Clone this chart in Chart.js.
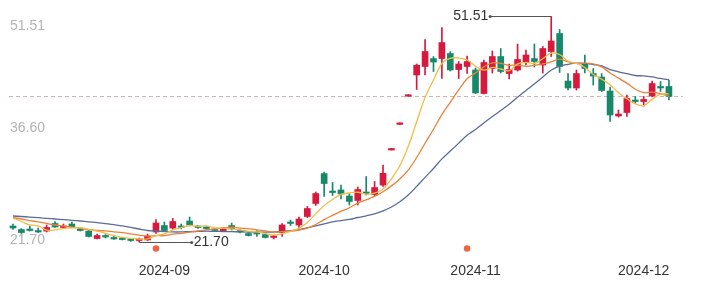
<!DOCTYPE html>
<html><head><meta charset="utf-8">
<script src="https://cdn.jsdelivr.net/npm/chart.js@4.4.1/dist/chart.umd.min.js"></script>
<style>html,body{margin:0;padding:0;background:#fff;overflow:hidden}canvas{display:block}</style>
</head><body>
<canvas id="c" width="703" height="291"></canvas>
<script>
// ---- data (daily candles, 2024-08-07 .. 2024-12-05) ----
const opens  = [23.82,23.35,23.35,23.15,23.15,24.15,23.62,24.08,23.35,23.15,
                22.16,22.49,22.30,22.16,22.03,21.90,21.97,23.02,23.88,23.55,
                23.75,24.48,23.75,23.62,23.35,23.15,23.88,23.15,22.82,22.89,
                22.69,22.30,22.95,24.28,23.95,25.07,26.79,30.75,28.44,28.58,
                27.78,27.19,28.31,27.98,29.23,33.86,37.25,40.97,43.78,44.90,
                45.95,45.95,46.62,44.50,44.90,44.44,41.33,44.63,46.22,43.97,
                44.44,45.43,45.95,45.10,46.88,49.26,42.98,42.06,45.30,43.97,
                43.51,41.66,38.36,38.82,40.47,40.27,41.00,42.26,42.26];
const closes = [23.55,22.95,23.22,23.02,23.62,23.68,23.82,23.68,23.22,22.43,
                22.56,22.36,22.10,22.03,21.90,22.10,22.49,24.21,23.22,24.41,
                23.62,23.95,23.62,23.48,23.22,23.42,23.42,23.02,22.56,22.76,
                22.30,22.43,23.95,24.15,24.74,26.13,28.11,29.43,28.24,28.05,
                27.06,28.64,28.11,28.90,30.78,33.86,37.25,40.97,45.07,46.88,
                45.49,48.07,44.44,45.23,45.56,41.40,45.43,46.22,44.24,44.50,
                45.83,46.42,45.56,47.28,48.27,44.90,42.06,43.97,44.63,43.64,
                41.73,38.49,38.62,40.67,40.27,40.54,42.65,42.06,40.94];
const highs  = [24.08,23.48,23.82,23.55,23.95,24.41,24.08,24.35,23.42,23.29,
                22.76,22.69,22.56,22.30,22.16,22.23,22.76,24.68,24.35,24.81,
                24.08,25.00,23.88,23.75,23.48,23.62,24.21,23.35,22.95,23.22,
                22.82,22.63,24.15,24.61,25.00,26.39,28.31,30.95,29.57,29.23,
                28.11,28.97,30.36,29.70,31.88,33.86,37.25,40.97,45.23,48.47,
                46.22,50.05,46.88,45.56,46.29,44.70,45.76,46.95,47.28,45.23,
                47.87,47.08,47.87,47.54,51.51,49.79,43.97,44.44,46.42,44.63,
                43.97,42.19,39.15,41.13,40.94,40.94,42.98,42.92,43.12];
const lows   = [23.35,22.82,23.15,22.95,23.02,23.62,23.55,23.62,23.15,22.36,
                22.10,22.23,22.03,21.97,21.77,21.70,21.90,22.82,23.15,23.35,
                23.42,23.82,23.48,23.35,23.09,23.09,23.29,22.89,22.49,22.43,
                22.23,22.10,22.43,23.88,23.62,24.94,26.53,27.72,27.85,27.38,
                26.59,26.59,27.91,27.85,29.04,33.86,37.25,40.97,41.86,43.78,
                44.24,43.31,44.30,43.31,43.97,41.33,41.26,44.04,44.04,43.25,
                44.30,45.10,44.83,44.04,46.22,44.11,41.79,41.79,44.04,42.45,
                41.60,37.63,38.22,38.29,40.01,39.68,40.87,41.60,40.47];
const ma5  = [24.87,24.41,23.95,23.82,23.27,23.30,23.47,23.56,23.60,23.37,
              23.14,22.85,22.53,22.30,22.19,22.10,22.12,22.55,22.78,23.29,
              23.59,23.88,23.76,23.82,23.58,23.54,23.43,23.31,23.13,23.04,
              22.81,22.61,22.80,23.12,23.51,24.28,25.42,26.51,27.33,27.99,
              28.18,28.28,28.02,28.15,28.70,30.06,31.78,34.35,37.59,40.81,
              43.13,45.30,45.99,46.02,45.76,44.94,44.41,44.77,44.57,44.36,
              45.24,45.44,45.31,45.92,46.67,46.49,45.61,45.30,44.77,43.84,
              43.21,42.49,41.42,40.63,39.96,39.72,40.55,41.24,41.29];
const ma10 = [24.94,24.74,24.54,24.35,24.15,23.95,23.82,23.68,23.51,23.32,
              23.22,23.16,23.05,22.95,22.78,22.62,22.49,22.54,22.54,22.74,
              22.84,23.00,23.16,23.30,23.43,23.56,23.66,23.54,23.47,23.31,
              23.18,23.02,23.06,23.12,23.28,23.55,24.02,24.66,25.22,25.75,
              26.23,26.85,27.27,27.74,28.35,29.12,30.03,31.19,32.87,34.75,
              36.60,38.54,40.17,41.80,43.28,44.04,44.85,45.38,45.30,45.06,
              45.09,44.93,45.04,45.24,45.52,45.87,45.53,45.30,45.34,45.26,
              44.85,44.05,43.36,42.70,41.90,41.46,41.52,41.33,40.96];
const ma20 = [25.14,25.07,25.00,24.91,24.83,24.74,24.66,24.57,24.48,24.37,
              24.26,24.14,24.01,23.82,23.62,23.42,23.22,23.15,23.09,23.03,
              23.03,23.08,23.10,23.13,23.11,23.09,23.07,23.04,23.01,23.02,
              23.01,23.01,23.11,23.21,23.35,23.56,23.84,24.10,24.35,24.53,
              24.70,24.94,25.16,25.43,25.81,26.33,27.02,27.92,29.05,30.25,
              31.41,32.69,33.72,34.77,35.81,36.58,37.44,38.28,39.08,39.91,
              40.84,41.73,42.61,43.52,44.40,44.95,45.19,45.34,45.32,45.16,
              44.97,44.49,44.20,43.97,43.71,43.66,43.52,43.32,43.15];
const monthTickIdx    = [18, 37, 55, 75];
const monthTickLabels = ['2024-09', '2024-10', '2024-11', '2024-12'];
const eventIdx        = [17, 54];
const priceLabels     = [51.51, 36.60, 21.70];

// ---- styling ----
const RED = '#d7193d', GREEN = '#17896a';
const FONT = '14px "Liberation Sans", Arial, sans-serif';
const idx = closes.map((_, i) => i);
const isUp = i => closes[i] >= opens[i];
const candleColor = c => isUp(c.dataIndex) ? RED : GREEN;

const overlay = {
  id: 'overlay',
  beforeDatasetsDraw(chart) {
    const {ctx, chartArea: a, scales: {y}} = chart;
    const yl = y.getPixelForValue(closes[closes.length - 1]);
    ctx.save();
    ctx.strokeStyle = '#d2b4b4';
    ctx.lineWidth = 1;
    ctx.setLineDash([4, 3]);
    ctx.beginPath();
    ctx.moveTo(a.left + 9, Math.round(yl) + 0.5);
    ctx.lineTo(a.right - 20, Math.round(yl) + 0.5);
    ctx.stroke();
    ctx.restore();
  },
  afterDatasetsDraw(chart) {
    const {ctx, chartArea: a, scales: {x, y}} = chart;
    ctx.save();
    ctx.font = FONT;
    // price labels (left, inside)
    ctx.fillStyle = '#b3b3b3';
    ctx.textAlign = 'left';
    priceLabels.forEach((v, k) => {
      const py = y.getPixelForValue(v);
      if (k === 0) { ctx.textBaseline = 'top'; ctx.fillText(v.toFixed(2), a.left + 10, py + 3); }
      else if (k === priceLabels.length - 1) { ctx.textBaseline = 'bottom'; ctx.fillText(v.toFixed(2), a.left + 10, py + 5); }
      else { ctx.textBaseline = 'middle'; ctx.fillText(v.toFixed(2), a.left + 10, py - 1); }
    });
    // month labels
    ctx.fillStyle = '#333';
    ctx.textAlign = 'center';
    ctx.textBaseline = 'middle';
    monthTickIdx.forEach((t, k) => ctx.fillText(monthTickLabels[k], x.getPixelForValue(t), a.bottom - 20));
    // event dots
    const lo = Math.min(...lows), loIdx = lows.indexOf(lo);
    const hi = Math.max(...highs), hiIdx = highs.indexOf(hi);
    ctx.fillStyle = '#ef6445';
    eventIdx.forEach(t => {
      ctx.beginPath();
      ctx.arc(x.getPixelForValue(t), y.getPixelForValue(lo) + 6.5, 3.3, 0, Math.PI * 2);
      ctx.fill();
    });
    // max / min markers
    ctx.strokeStyle = '#555';
    ctx.fillStyle = '#555';
    ctx.lineWidth = 1;
    const xh = x.getPixelForValue(hiIdx), yh = Math.round(y.getPixelForValue(hi)) + 0.5;
    ctx.beginPath(); ctx.moveTo(xh - 61, yh); ctx.lineTo(xh, yh); ctx.stroke();
    ctx.beginPath(); ctx.arc(xh - 61, yh, 1.6, 0, Math.PI * 2); ctx.fill();
    const xl = x.getPixelForValue(loIdx), yl = Math.round(y.getPixelForValue(lo)) + 0.5;
    ctx.beginPath(); ctx.moveTo(xl, yl); ctx.lineTo(xl + 52.5, yl); ctx.stroke();
    ctx.beginPath(); ctx.arc(xl + 52.5, yl, 1.6, 0, Math.PI * 2); ctx.fill();
    ctx.fillStyle = '#333';
    ctx.textBaseline = 'middle';
    ctx.textAlign = 'right';
    ctx.fillText(hi.toFixed(2), xh - 63, yh);
    ctx.textAlign = 'left';
    ctx.fillText(lo.toFixed(2), xl + 54.5, yl);
    ctx.restore();
  }
};

const lineDs = (label, arr, color) => ({
  type: 'line', label, data: idx.map(i => ({x: i, y: arr[i]})),
  borderColor: color, borderWidth: 1.3, pointRadius: 0, tension: 0.35, order: 0
});

new Chart(document.getElementById('c'), {
  type: 'bar',
  data: {
    datasets: [
      lineDs('MA5', ma5, '#f3bc4a'),
      lineDs('MA10', ma10, '#e9823a'),
      lineDs('MA20', ma20, '#5a6c9a'),
      { type: 'bar', label: 'body', data: idx.map(i => ({x: i, y: [opens[i], closes[i]]})),
        backgroundColor: candleColor, barThickness: 6, minBarLength: 1.5, grouped: false, order: 1 },
      { type: 'bar', label: 'wick', data: idx.map(i => ({x: i, y: [lows[i], highs[i]]})),
        backgroundColor: candleColor, barThickness: 1, minBarLength: 1.5, grouped: false, order: 2 }
    ]
  },
  options: {
    responsive: false, animation: false, devicePixelRatio: 1,
    layout: { padding: 0 },
    plugins: { legend: { display: false }, tooltip: { enabled: false } },
    scales: {
      x: { type: 'linear', display: false, offset: false, bounds: 'data', min: -1.546, max: closes.length + 3.05 },
      y: { type: 'linear', display: false, beginAtZero: false, bounds: 'data', min: 15.224, max: 53.691 }
    }
  },
  plugins: [overlay]
});
</script>
</body></html>
